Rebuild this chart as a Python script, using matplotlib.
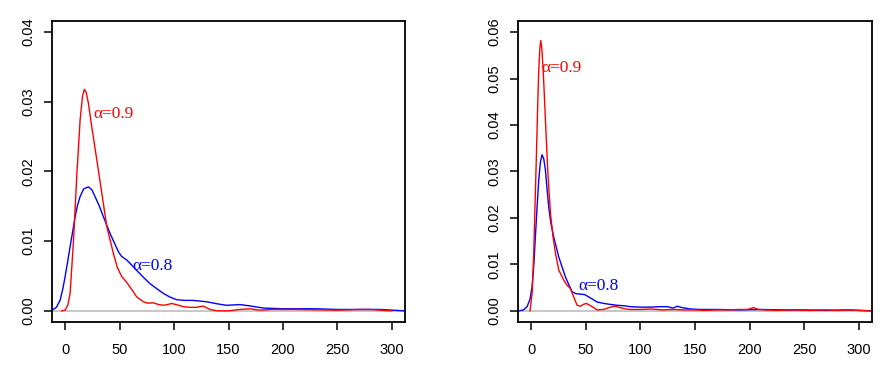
import matplotlib
matplotlib.use("Agg")
import matplotlib.pyplot as plt

# density curves
# left panel
left_red_x = [-3, 0, 2.5, 4.6, 7.6, 10.7, 13.8, 16, 17.7, 19.5, 21.4, 24.5, 29.1, 33.7, 38.3, 44.4, 48, 52.1, 56, 59.7,
              65.8, 71.9, 76, 81, 86, 90.2, 94, 97.8, 102, 108.5, 115, 120, 126.8, 133, 140, 150, 160, 170, 178, 190,
              210, 230, 250, 270, 280, 290, 300]
left_red_y = [0, 0.0001, 0.0008, 0.0025, 0.0097, 0.0193, 0.0274, 0.0308, 0.0318, 0.0313, 0.0298, 0.0264, 0.0217, 0.0169,
              0.0121, 0.0082, 0.0062, 0.0049, 0.0042, 0.0034, 0.0020, 0.0013, 0.0011, 0.00115, 0.0009, 0.0008, 0.0009,
              0.00106, 0.0009, 0.0006, 0.0005, 0.0005, 0.00068, 0.0002, 0.0, 0.0, 0.0002, 0.0003, 0.0001, 0.0002,
              0.0002, 0.00015, 0.0001, 0.0002, 0.0002, 0.0001, 0.0]
left_blue_x = [-12, -8, -4.6, -2, 0, 2.3, 4.6, 7, 9.2, 11.5, 13.8, 17, 21.4, 24.5, 27.5, 31, 35.2, 41.3, 48.9, 52,
               56.6, 61, 65.8, 72, 78, 84, 90.2, 96, 102.4, 110, 117.7, 124, 130, 140, 148, 160.7, 170, 182, 200, 216,
               230, 250, 270, 290, 300, 312]
left_blue_y = [0.0001, 0.0005, 0.0015, 0.0032, 0.0049, 0.0070, 0.0092, 0.0114, 0.0135, 0.0152, 0.0164, 0.0175, 0.0178,
               0.0174, 0.0164, 0.0152, 0.0135, 0.0111, 0.0085, 0.0078, 0.0073, 0.0066, 0.0058, 0.0048, 0.0039, 0.0032,
               0.0025, 0.0020, 0.0016, 0.0015, 0.0015, 0.0014, 0.0013, 0.0010, 0.0008, 0.0009, 0.0007, 0.0004, 0.0003,
               0.0003, 0.0003, 0.0002, 0.0002, 0.0002, 0.0001, 0.0]

# right panel
right_red_x = [-1, 1, 2.4, 3.6, 4.9, 6, 7, 8, 8.8, 9.8, 11, 12, 13.1, 15.2, 17.7, 20.1, 22.3, 25.3, 29.9, 33, 36, 39,
               42.1, 45.1, 48, 50.6, 53, 55.9, 60.4, 66.5, 70, 75.7, 80, 84.8, 90, 100, 110, 120, 130, 140, 150, 160,
               170, 180, 190, 198, 203.6, 208, 215, 225, 240, 255, 270, 280, 290, 300, 310]
right_red_y = [0, 0.004, 0.0124, 0.023, 0.0339, 0.044, 0.0519, 0.0565, 0.0582, 0.0565, 0.0519, 0.047, 0.0411, 0.0303,
               0.0210, 0.0159, 0.0124, 0.0088, 0.0066, 0.0055, 0.0048, 0.0030, 0.0012, 0.0010, 0.0014, 0.0016, 0.0013,
               0.0009, 0.0002, 0.0003, 0.0006, 0.0010, 0.0008, 0.0005, 0.0003, 0.0003, 0.0004, 0.0002, 0.0003, 0.0002,
               0.0002, 0.0001, 0.0002, 0.0002, 0.0003, 0.0003, 0.0007, 0.0003, 0.0002, 0.0001, 0.0002, 0.0001, 0.0002,
               0.0001, 0.0002, 0.0001, 0.0]
right_blue_x = [-11, -7, -3.7, -1, 0.9, 2.5, 3.9, 5.5, 7, 8.5, 10, 11.5, 13.1, 14.5, 16.1, 18, 20.7, 25.3, 31.4, 37.5,
                41, 45.1, 49, 52.7, 57, 60.4, 66.5, 72, 78.7, 85, 90.9, 100, 109, 117, 124.5, 130, 133.7, 138, 145.9,
                155, 170, 190, 210, 230, 250, 270, 290, 300, 312]
right_blue_y = [0, 0.0002, 0.0009, 0.0025, 0.0052, 0.0100, 0.0159, 0.0225, 0.0282, 0.0320, 0.0336, 0.0328, 0.0303,
                0.0265, 0.0224, 0.0190, 0.0159, 0.0116, 0.0073, 0.0041, 0.0037, 0.0036, 0.0035, 0.0030, 0.0024, 0.0019,
                0.0016, 0.0014, 0.0012, 0.0011, 0.0009, 0.0008, 0.0008, 0.0009, 0.0009, 0.0006, 0.0010, 0.0007, 0.0004,
                0.0003, 0.0003, 0.0002, 0.0003, 0.0002, 0.0002, 0.0001, 0.0002, 0.0001, 0.0]

x_ticks = [0, 50, 100, 150, 200, 250, 300]
left_y_ticks = [0.00, 0.01, 0.02, 0.03, 0.04]
right_y_ticks = [0.00, 0.01, 0.02, 0.03, 0.04, 0.05, 0.06]

# label anchors (data coords)
left_labels = [("α=0.9", 25.7, 0.0283, "red"), ("α=0.8", 61.5, 0.0065, "blue")]
right_labels = [("α=0.9", 9.4, 0.0522, "red"), ("α=0.8", 43.0, 0.0054, "blue")]

W, H = 891, 371
fig = plt.figure(figsize=(W / 100, H / 100), dpi=100)
fig.patch.set_facecolor("white")


def panel(rect, red_x, red_y, blue_x, blue_y, yticks, ylim, labels):
    ax = fig.add_axes(rect)
    ax.axhline(0, color="#bebebe", lw=1.2, zorder=1)
    ax.plot(red_x, red_y, color="red", lw=1.0, zorder=3)
    ax.plot(blue_x, blue_y, color="blue", lw=1.0, zorder=2)
    for txt, x, y, c in labels:
        ax.text(x, y, txt, color=c, fontsize=12.5, family="Liberation Serif",
                ha="left", va="center")
    ax.set_xlim(-12, 312)
    ax.set_ylim(*ylim)
    ax.set_xticks(x_ticks)
    ax.set_xticklabels([str(t) for t in x_ticks], family="Liberation Sans", fontsize=10.5)
    ax.set_yticks(yticks)
    ax.set_yticklabels(["%.2f" % t for t in yticks], family="Liberation Sans", fontsize=10.5,
                       rotation=90, va="center")
    ax.tick_params(direction="out", length=5.8, width=1.1)
    ax.tick_params(axis="x", pad=9)
    ax.tick_params(axis="y", pad=6.5)
    for s in ax.spines.values():
        s.set_linewidth(1.3)
    return ax


panel([52 / W, 49 / H, 353 / W, 301 / H], left_red_x, left_red_y, left_blue_x, left_blue_y,
      left_y_ticks, (-0.0016, 0.0416), left_labels)
panel([518 / W, 49 / H, 354 / W, 301 / H], right_red_x, right_red_y, right_blue_x, right_blue_y,
      right_y_ticks, (-0.0024, 0.0624), right_labels)

fig.savefig("out.png", dpi=100)
